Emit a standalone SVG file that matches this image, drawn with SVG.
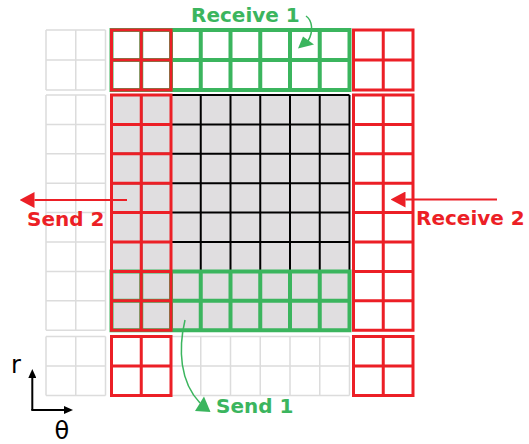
<svg xmlns="http://www.w3.org/2000/svg" width="529" height="444" viewBox="0 0 529 444">
<style>
.ghost{fill:none;stroke:#dcdcdc;stroke-width:1.5}
.blk{fill:none;stroke:#000;stroke-width:2}
.grn{fill:none;stroke:#3bb55e;stroke-width:4;stroke-linecap:square}
.red{fill:none;stroke:#ec1f26;stroke-width:3;stroke-linecap:square}
.lbl{font-family:"DejaVu Sans",Verdana,sans-serif;font-weight:bold;font-size:20px}
.ax{font-family:"DejaVu Sans",Verdana,sans-serif;font-size:24px;fill:#000}
</style>
<defs>
<marker id="hr" markerUnits="userSpaceOnUse" markerWidth="15" markerHeight="16" viewBox="0 0 14 15" refX="0" refY="7.5" orient="auto"><path d="M0,0L14,7.5L0,15z" fill="#ec1f26"/></marker>
<marker id="hk" markerUnits="userSpaceOnUse" markerWidth="9" markerHeight="8" viewBox="0 0 9 8" refX="0" refY="4" orient="auto"><path d="M0,0L9,4L0,8z" fill="#000"/></marker>
</defs>
<rect width="529" height="444" fill="#fff"/>
<g id="ghost-cells">
<path class="ghost" d="M46 30V90M75.75 30V90M105.5 30V90M46 30H105.5M46 60H105.5M46 90H105.5"/>
<path class="ghost" d="M46 95V330.2M75.75 95V330.2M105.5 95V330.2M46 95H105.5M46 124.4H105.5M46 153.8H105.5M46 183.2H105.5M46 212.6H105.5M46 242H105.5M46 271.4H105.5M46 300.8H105.5M46 330.2H105.5"/>
<path class="ghost" d="M46 336.5V395.5M75.75 336.5V395.5M105.5 336.5V395.5M46 336.5H105.5M46 366H105.5M46 395.5H105.5"/>
<path class="ghost" d="M171 336.5V395.5M200.75 336.5V395.5M230.5 336.5V395.5M260.25 336.5V395.5M290 336.5V395.5M319.75 336.5V395.5M349.5 336.5V395.5M171 336.5H349.5M171 366H349.5M171 395.5H349.5"/>
</g>
<g id="local-domain">
<rect x="111.5" y="95" width="238" height="235.2" fill="#e0dee0"/>
<path class="blk" d="M111.5 95V330.2M141.25 95V330.2M171 95V330.2M200.75 95V330.2M230.5 95V330.2M260.25 95V330.2M290 95V330.2M319.75 95V330.2M349.5 95V330.2M111.5 95H349.5M111.5 124.4H349.5M111.5 153.8H349.5M111.5 183.2H349.5M111.5 212.6H349.5M111.5 242H349.5M111.5 271.4H349.5M111.5 300.8H349.5M111.5 330.2H349.5"/>
</g>
<g id="receive1-halo">
<path class="grn" d="M111.5 30V90M141.25 30V90M171 30V90M200.75 30V90M230.5 30V90M260.25 30V90M290 30V90M319.75 30V90M349.5 30V90M111.5 30H349.5M111.5 60H349.5M111.5 90H349.5"/>
</g>
<g id="send1-rows">
<path class="grn" d="M111.5 271.4V330.2M141.25 271.4V330.2M171 271.4V330.2M200.75 271.4V330.2M230.5 271.4V330.2M260.25 271.4V330.2M290 271.4V330.2M319.75 271.4V330.2M349.5 271.4V330.2M111.5 271.4H349.5M111.5 300.8H349.5M111.5 330.2H349.5"/>
</g>
<g id="send2-cols">
<path class="red" d="M111.5 30V90M141.25 30V90M171 30V90M111.5 30H171M111.5 60H171M111.5 90H171"/>
<path class="red" d="M111.5 95V330.2M141.25 95V330.2M171 95V330.2M111.5 95H171M111.5 124.4H171M111.5 153.8H171M111.5 183.2H171M111.5 212.6H171M111.5 242H171M111.5 271.4H171M111.5 300.8H171M111.5 330.2H171"/>
<path class="red" d="M111.5 336.5V395.5M141.25 336.5V395.5M171 336.5V395.5M111.5 336.5H171M111.5 366H171M111.5 395.5H171"/>
</g>
<g id="receive2-halo">
<path class="red" d="M353.5 30V90M383.25 30V90M413 30V90M353.5 30H413M353.5 60H413M353.5 90H413"/>
<path class="red" d="M353.5 95V330.2M383.25 95V330.2M413 95V330.2M353.5 95H413M353.5 124.4H413M353.5 153.8H413M353.5 183.2H413M353.5 212.6H413M353.5 242H413M353.5 271.4H413M353.5 300.8H413M353.5 330.2H413"/>
<path class="red" d="M353.5 336.5V395.5M383.25 336.5V395.5M413 336.5V395.5M353.5 336.5H413M353.5 366H413M353.5 395.5H413"/>
</g>
<g id="connectors">
<path d="M127 200H34.5" stroke="#ec1f26" stroke-width="2" fill="none" marker-end="url(#hr)"/>
<path d="M497 199.5H405.5" stroke="#ec1f26" stroke-width="2" fill="none" marker-end="url(#hr)"/>
<path d="M306 16C312 20 314 31 308 41" stroke="#3bb55e" stroke-width="1.5" fill="none"/>
<path d="M298 48.5L303 36.5L314 44.5z" fill="#3bb55e"/>
<path d="M185 320C178 350 180 382 200 403" stroke="#3bb55e" stroke-width="1.5" fill="none"/>
<path d="M210.5 412L195 411L204 396.5z" fill="#3bb55e"/>
<path d="M32.3 410V378" stroke="#000" stroke-width="2" fill="none" marker-end="url(#hk)"/>
<path d="M31.3 410H64" stroke="#000" stroke-width="2" fill="none" marker-end="url(#hk)"/>
</g>
<g id="labels">
<text class="lbl" x="191" y="22" fill="#3bb55e">Receive 1</text>
<text class="lbl" x="27" y="225.5" fill="#ec1f26">Send 2</text>
<text class="lbl" x="416" y="225" fill="#ec1f26">Receive 2</text>
<text class="lbl" x="216" y="412.5" fill="#3bb55e">Send 1</text>
<text class="ax" x="11" y="373">r</text>
<text class="ax" x="54.5" y="439">θ</text>
</g>
</svg>
